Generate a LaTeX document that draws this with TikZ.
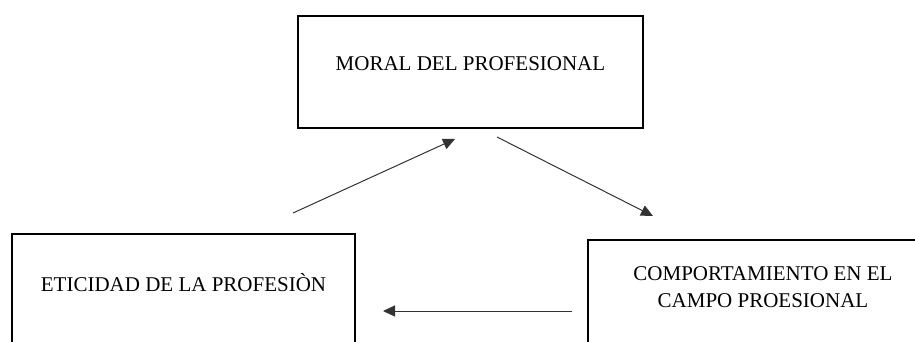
\documentclass[tikz,border=0pt]{standalone}
\usepackage{fontspec}
\setmainfont{Liberation Serif}
\usetikzlibrary{arrows.meta}

\tikzset{
	caja/.style={draw, line width=2pt, inner sep=0pt, align=center, anchor=north west, font=\fontsize{21}{27}\selectfont},
	flecha/.style={-{Triangle[length=12pt,width=11pt]}, line width=1pt, color=black!80}
}

\begin{document}
\begin{tikzpicture}[x=1pt,y=-1pt]
				\useasboundingbox (0,0) rectangle (915,342);
				\node[caja, minimum width=345pt, text height=55pt, text depth=57pt] (moral) at (297,15) {MORAL DEL PROFESIONAL};
				\node[caja, minimum width=343pt, text height=57pt, text depth=57pt] (eticidad) at (11,233) {ETICIDAD DE LA PROFESIÒN};
				\node[caja, minimum width=350pt, text height=67pt, text depth=45pt] (comport) at (587,239) {COMPORTAMIENTO EN EL\\CAMPO PROESIONAL};
				\coordinate (e1) at (293,213);
				\coordinate (m1) at (455,139);
				\coordinate (m2) at (497,137);
				\coordinate (c1) at (653,216);
				\coordinate (c2) at (572,311);
				\coordinate (e2) at (383,311);
				\draw[flecha] (e1)--(m1);
				\draw[flecha] (m2)--(c1);
				\draw[flecha] (c2)--(e2);
			\end{tikzpicture}
\end{document}
